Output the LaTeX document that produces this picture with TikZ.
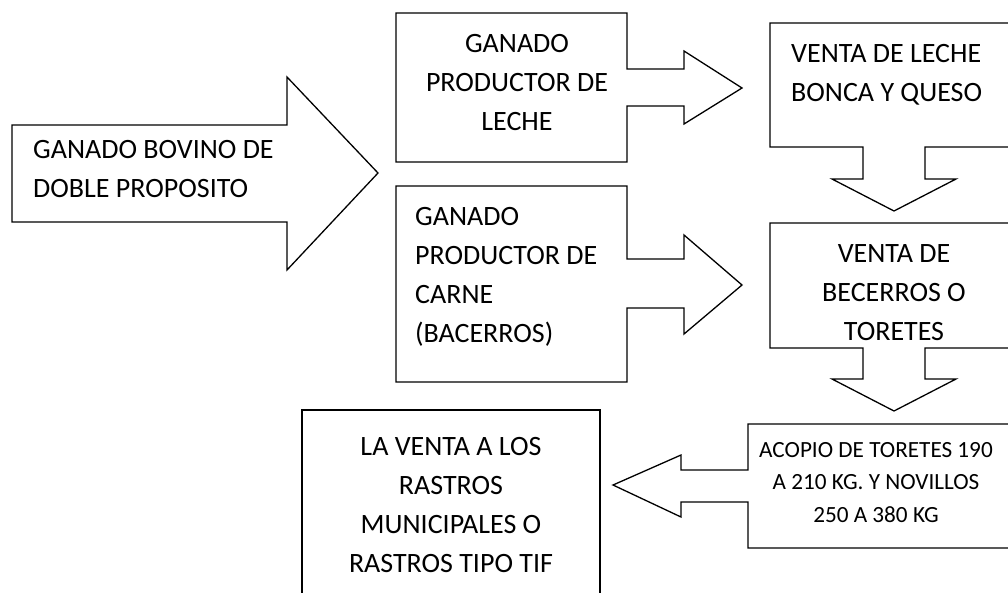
\documentclass[tikz,border=0pt]{standalone}
\usepackage{fontspec}
\setmainfont{Carlito}
\begin{document}
\begin{tikzpicture}[x=1pt,y=-1pt,
  shapeline/.style={draw=black,line width=1.3pt,line join=miter},
  bigtxt/.style={inner sep=0pt,font=\fontsize{28}{39}\selectfont},
  smalltxt/.style={inner sep=0pt,font=\fontsize{23.2}{32.5}\selectfont}]
\useasboundingbox (0,0) rectangle (1008,592);
\clip (0,0) rectangle (1008,592);
% big arrow
\draw[shapeline] (12,125) -- (287,125) -- (287,77) -- (378,173) -- (287,270) -- (287,222) -- (12,222) -- cycle;
% leche box with right arrow
\draw[shapeline] (396,13) -- (627,13) -- (627,69) -- (684,69) -- (684,51) -- (742,88) -- (684,124) -- (684,106) -- (627,106) -- (627,162) -- (396,162) -- cycle;
% venta leche with down arrow
\draw[shapeline] (770,23) -- (1018,23) -- (1018,147) -- (925,147) -- (925,179) -- (956,179) -- (894,211) -- (832,179) -- (863,179) -- (863,147) -- (770,147) -- cycle;
% carne box with right arrow
\draw[shapeline] (396,186) -- (627,186) -- (627,259) -- (684,259) -- (684,235) -- (742,285) -- (684,334) -- (684,308) -- (627,308) -- (627,382) -- (396,382) -- cycle;
% venta becerros with down arrow
\draw[shapeline] (770,223) -- (1018,223) -- (1018,348) -- (925,348) -- (925,379) -- (956,379) -- (894,411) -- (832,379) -- (863,379) -- (863,348) -- (770,348) -- cycle;
% acopio with left arrow
\draw[shapeline] (1018,424) -- (748,424) -- (748,470) -- (681,470) -- (681,455) -- (613,485) -- (681,517) -- (681,502) -- (748,502) -- (748,548) -- (1018,548) -- cycle;
% la venta box
\draw[shapeline] (302,610) -- (302,410) -- (600,410) -- (600,610);
% texts
\node[bigtxt,anchor=north west,align=left] (t0) at (33,130.7) {\strut GANADO BOVINO DE\\DOBLE PROPOSITO};
\node[bigtxt,anchor=north,align=center] (t1) at (517,24.7) {\strut GANADO\\PRODUCTOR DE\\LECHE};
\node[bigtxt,anchor=north west,align=left] (t2) at (791,34.7) {\strut VENTA DE LECHE\\BONCA Y QUESO};
\node[bigtxt,anchor=north west,align=left] (t3) at (415,197.7) {\strut GANADO\\PRODUCTOR DE\\CARNE\\(BACERROS)};
\node[bigtxt,anchor=north,align=center] (t4) at (894,234.7) {\strut VENTA DE\\BECERROS O\\TORETES};
\node[bigtxt,anchor=north,align=center] (t5) at (451,427.7) {\strut LA VENTA A LOS\\RASTROS\\MUNICIPALES O\\RASTROS TIPO TIF};
\node[smalltxt,anchor=north,align=center] (t6) at (876,434.25) {\strut ACOPIO DE TORETES 190\\A 210 KG. Y NOVILLOS\\250 A 380 KG};
\end{tikzpicture}
\end{document}
